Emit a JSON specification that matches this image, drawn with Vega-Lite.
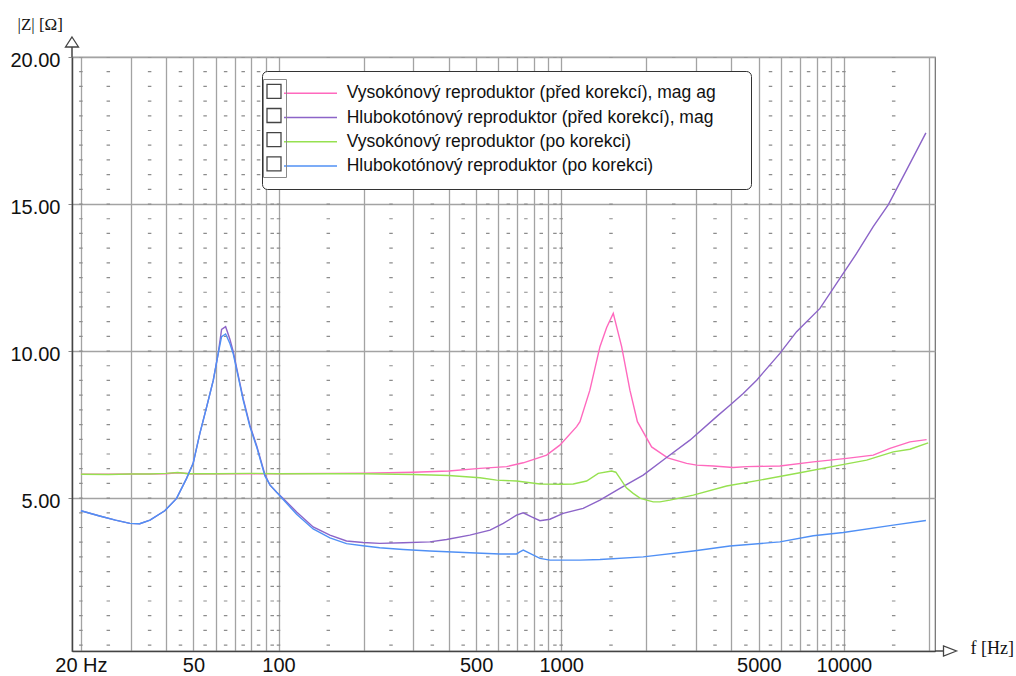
{
  "$schema": "https://vega.github.io/schema/vega-lite/v6.json",
  "width": 863,
  "height": 594,
  "autosize": {"type": "none"},
  "padding": {"left": 72, "top": 57, "right": 81, "bottom": 25},
  "background": "white",
  "config": {
    "font": "Liberation Sans",
    "view": {"stroke": "#6e6e6e", "strokeWidth": 1.2}
  },
  "datasets": {
    "curves": [
      {"s": "Vysokónový reproduktor (před korekcí), mag ag", "f": 20, "z": 5.81},
      {"s": "Vysokónový reproduktor (před korekcí), mag ag", "f": 25, "z": 5.81},
      {"s": "Vysokónový reproduktor (před korekcí), mag ag", "f": 30, "z": 5.82},
      {"s": "Vysokónový reproduktor (před korekcí), mag ag", "f": 35, "z": 5.82},
      {"s": "Vysokónový reproduktor (před korekcí), mag ag", "f": 40, "z": 5.83},
      {"s": "Vysokónový reproduktor (před korekcí), mag ag", "f": 44, "z": 5.86},
      {"s": "Vysokónový reproduktor (před korekcí), mag ag", "f": 50, "z": 5.82},
      {"s": "Vysokónový reproduktor (před korekcí), mag ag", "f": 70, "z": 5.83},
      {"s": "Vysokónový reproduktor (před korekcí), mag ag", "f": 100, "z": 5.83},
      {"s": "Vysokónový reproduktor (před korekcí), mag ag", "f": 150, "z": 5.84},
      {"s": "Vysokónový reproduktor (před korekcí), mag ag", "f": 200, "z": 5.85},
      {"s": "Vysokónový reproduktor (před korekcí), mag ag", "f": 300, "z": 5.88},
      {"s": "Vysokónový reproduktor (před korekcí), mag ag", "f": 400, "z": 5.92},
      {"s": "Vysokónový reproduktor (před korekcí), mag ag", "f": 516, "z": 6.01},
      {"s": "Vysokónový reproduktor (před korekcí), mag ag", "f": 641, "z": 6.07},
      {"s": "Vysokónový reproduktor (před korekcí), mag ag", "f": 734, "z": 6.2},
      {"s": "Vysokónový reproduktor (před korekcí), mag ag", "f": 888, "z": 6.46},
      {"s": "Vysokónový reproduktor (před korekcí), mag ag", "f": 989, "z": 6.8},
      {"s": "Vysokónový reproduktor (před korekcí), mag ag", "f": 1134, "z": 7.43},
      {"s": "Vysokónový reproduktor (před korekcí), mag ag", "f": 1165, "z": 7.6},
      {"s": "Vysokónový reproduktor (před korekcí), mag ag", "f": 1263, "z": 8.67},
      {"s": "Vysokónový reproduktor (před korekcí), mag ag", "f": 1371, "z": 10.15},
      {"s": "Vysokónový reproduktor (před korekcí), mag ag", "f": 1448, "z": 10.8},
      {"s": "Vysokónový reproduktor (před korekcí), mag ag", "f": 1528, "z": 11.28},
      {"s": "Vysokónový reproduktor (před korekcí), mag ag", "f": 1636, "z": 10.15},
      {"s": "Vysokónový reproduktor (před korekcí), mag ag", "f": 1750, "z": 8.67},
      {"s": "Vysokónový reproduktor (před korekcí), mag ag", "f": 1860, "z": 7.6},
      {"s": "Vysokónový reproduktor (před korekcí), mag ag", "f": 2088, "z": 6.74},
      {"s": "Vysokónový reproduktor (před korekcí), mag ag", "f": 2380, "z": 6.37},
      {"s": "Vysokónový reproduktor (před korekcí), mag ag", "f": 2777, "z": 6.18},
      {"s": "Vysokónový reproduktor (před korekcí), mag ag", "f": 3014, "z": 6.12},
      {"s": "Vysokónový reproduktor (před korekcí), mag ag", "f": 3450, "z": 6.09},
      {"s": "Vysokónový reproduktor (před korekcí), mag ag", "f": 4059, "z": 6.04},
      {"s": "Vysokónový reproduktor (před korekcí), mag ag", "f": 4527, "z": 6.07},
      {"s": "Vysokónový reproduktor (před korekcí), mag ag", "f": 5937, "z": 6.09},
      {"s": "Vysokónový reproduktor (před korekcí), mag ag", "f": 7790, "z": 6.23},
      {"s": "Vysokónový reproduktor (před korekcí), mag ag", "f": 10222, "z": 6.35},
      {"s": "Vysokónový reproduktor (před korekcí), mag ag", "f": 12696, "z": 6.46},
      {"s": "Vysokónový reproduktor (před korekcí), mag ag", "f": 14547, "z": 6.69},
      {"s": "Vysokónový reproduktor (před korekcí), mag ag", "f": 17124, "z": 6.91},
      {"s": "Vysokónový reproduktor (před korekcí), mag ag", "f": 19613, "z": 6.99},

      {"s": "Hlubokotónový reproduktor (před korekcí), mag", "f": 20, "z": 4.57},
      {"s": "Hlubokotónový reproduktor (před korekcí), mag", "f": 23.3, "z": 4.39},
      {"s": "Hlubokotónový reproduktor (před korekcí), mag", "f": 26.5, "z": 4.25},
      {"s": "Hlubokotónový reproduktor (před korekcí), mag", "f": 29.8, "z": 4.14},
      {"s": "Hlubokotónový reproduktor (před korekcí), mag", "f": 32.3, "z": 4.13},
      {"s": "Hlubokotónový reproduktor (před korekcí), mag", "f": 35.1, "z": 4.25},
      {"s": "Hlubokotónový reproduktor (před korekcí), mag", "f": 39.6, "z": 4.57},
      {"s": "Hlubokotónový reproduktor (před korekcí), mag", "f": 43.6, "z": 4.99},
      {"s": "Hlubokotónový reproduktor (před korekcí), mag", "f": 47.3, "z": 5.67},
      {"s": "Hlubokotónový reproduktor (před korekcí), mag", "f": 49.9, "z": 6.18},
      {"s": "Hlubokotónový reproduktor (před korekcí), mag", "f": 52.7, "z": 7.2},
      {"s": "Hlubokotónový reproduktor (před korekcí), mag", "f": 55.7, "z": 8.1},
      {"s": "Hlubokotónový reproduktor (před korekcí), mag", "f": 58.8, "z": 9.01},
      {"s": "Hlubokotónový reproduktor (před korekcí), mag", "f": 61.2, "z": 9.92},
      {"s": "Hlubokotónový reproduktor (před korekcí), mag", "f": 62.9, "z": 10.74},
      {"s": "Hlubokotónový reproduktor (před korekcí), mag", "f": 65, "z": 10.83},
      {"s": "Hlubokotónový reproduktor (před korekcí), mag", "f": 67.3, "z": 10.4},
      {"s": "Hlubokotónový reproduktor (před korekcí), mag", "f": 69.1, "z": 10.0},
      {"s": "Hlubokotónový reproduktor (před korekcí), mag", "f": 72, "z": 9.18},
      {"s": "Hlubokotónový reproduktor (před korekcí), mag", "f": 75, "z": 8.38},
      {"s": "Hlubokotónový reproduktor (před korekcí), mag", "f": 79.2, "z": 7.48},
      {"s": "Hlubokotónový reproduktor (před korekcí), mag", "f": 83.7, "z": 6.78},
      {"s": "Hlubokotónový reproduktor (před korekcí), mag", "f": 89.5, "z": 5.8},
      {"s": "Hlubokotónový reproduktor (před korekcí), mag", "f": 93.3, "z": 5.44},
      {"s": "Hlubokotónový reproduktor (před korekcí), mag", "f": 98.5, "z": 5.2},
      {"s": "Hlubokotónový reproduktor (před korekcí), mag", "f": 103.9, "z": 4.99},
      {"s": "Hlubokotónový reproduktor (před korekcí), mag", "f": 115.9, "z": 4.53},
      {"s": "Hlubokotónový reproduktor (před korekcí), mag", "f": 132.6, "z": 4.02},
      {"s": "Hlubokotónový reproduktor (před korekcí), mag", "f": 152, "z": 3.74},
      {"s": "Hlubokotónový reproduktor (před korekcí), mag", "f": 174, "z": 3.54},
      {"s": "Hlubokotónový reproduktor (před korekcí), mag", "f": 199, "z": 3.49},
      {"s": "Hlubokotónový reproduktor (před korekcí), mag", "f": 228, "z": 3.46},
      {"s": "Hlubokotónový reproduktor (před korekcí), mag", "f": 276, "z": 3.48},
      {"s": "Hlubokotónový reproduktor (před korekcí), mag", "f": 343, "z": 3.51},
      {"s": "Hlubokotónový reproduktor (před korekcí), mag", "f": 393, "z": 3.59},
      {"s": "Hlubokotónový reproduktor (před korekcí), mag", "f": 475, "z": 3.74},
      {"s": "Hlubokotónový reproduktor (před korekcí), mag", "f": 560, "z": 3.91},
      {"s": "Hlubokotónový reproduktor (před korekcí), mag", "f": 624, "z": 4.14},
      {"s": "Hlubokotónový reproduktor (před korekcí), mag", "f": 695, "z": 4.42},
      {"s": "Hlubokotónový reproduktor (před korekcí), mag", "f": 734, "z": 4.5},
      {"s": "Hlubokotónový reproduktor (před korekcí), mag", "f": 786, "z": 4.36},
      {"s": "Hlubokotónový reproduktor (před korekcí), mag", "f": 841, "z": 4.23},
      {"s": "Hlubokotónový reproduktor (před korekcí), mag", "f": 912, "z": 4.28},
      {"s": "Hlubokotónový reproduktor (před korekcí), mag", "f": 1016, "z": 4.48},
      {"s": "Hlubokotónový reproduktor (před korekcí), mag", "f": 1196, "z": 4.65},
      {"s": "Hlubokotónový reproduktor (před korekcí), mag", "f": 1371, "z": 4.93},
      {"s": "Hlubokotónový reproduktor (před korekcí), mag", "f": 1613, "z": 5.33},
      {"s": "Hlubokotónový reproduktor (před korekcí), mag", "f": 1950, "z": 5.78},
      {"s": "Hlubokotónový reproduktor (před korekcí), mag", "f": 2359, "z": 6.38},
      {"s": "Hlubokotónový reproduktor (před korekcí), mag", "f": 2853, "z": 6.97},
      {"s": "Hlubokotónový reproduktor (před korekcí), mag", "f": 3546, "z": 7.77},
      {"s": "Hlubokotónový reproduktor (před korekcí), mag", "f": 3951, "z": 8.16},
      {"s": "Hlubokotónový reproduktor (před korekcí), mag", "f": 4404, "z": 8.56},
      {"s": "Hlubokotónový reproduktor (před korekcí), mag", "f": 4913, "z": 9.01},
      {"s": "Hlubokotónový reproduktor (před korekcí), mag", "f": 5937, "z": 9.92},
      {"s": "Hlubokotónový reproduktor (před korekcí), mag", "f": 6802, "z": 10.66},
      {"s": "Hlubokotónový reproduktor (před korekcí), mag", "f": 8228, "z": 11.45},
      {"s": "Hlubokotónový reproduktor (před korekcí), mag", "f": 9680, "z": 12.47},
      {"s": "Hlubokotónový reproduktor (před korekcí), mag", "f": 11088, "z": 13.32},
      {"s": "Hlubokotónový reproduktor (před korekcí), mag", "f": 12696, "z": 14.23},
      {"s": "Hlubokotónový reproduktor (před korekcí), mag", "f": 14348, "z": 14.97},
      {"s": "Hlubokotónový reproduktor (před korekcí), mag", "f": 16668, "z": 16.16},
      {"s": "Hlubokotónový reproduktor (před korekcí), mag", "f": 19500, "z": 17.42},

      {"s": "Vysokónový reproduktor (po korekci)", "f": 20, "z": 5.81},
      {"s": "Vysokónový reproduktor (po korekci)", "f": 25, "z": 5.8},
      {"s": "Vysokónový reproduktor (po korekci)", "f": 30, "z": 5.82},
      {"s": "Vysokónový reproduktor (po korekci)", "f": 35, "z": 5.82},
      {"s": "Vysokónový reproduktor (po korekci)", "f": 40, "z": 5.84},
      {"s": "Vysokónový reproduktor (po korekci)", "f": 44, "z": 5.87},
      {"s": "Vysokónový reproduktor (po korekci)", "f": 48, "z": 5.83},
      {"s": "Vysokónový reproduktor (po korekci)", "f": 60, "z": 5.83},
      {"s": "Vysokónový reproduktor (po korekci)", "f": 80, "z": 5.84},
      {"s": "Vysokónový reproduktor (po korekci)", "f": 100, "z": 5.83},
      {"s": "Vysokónový reproduktor (po korekci)", "f": 150, "z": 5.83},
      {"s": "Vysokónový reproduktor (po korekci)", "f": 200, "z": 5.83},
      {"s": "Vysokónový reproduktor (po korekci)", "f": 300, "z": 5.8},
      {"s": "Vysokónový reproduktor (po korekci)", "f": 400, "z": 5.77},
      {"s": "Vysokónový reproduktor (po korekci)", "f": 516, "z": 5.69},
      {"s": "Vysokónový reproduktor (po korekci)", "f": 591, "z": 5.61},
      {"s": "Vysokónový reproduktor (po korekci)", "f": 695, "z": 5.58},
      {"s": "Vysokónový reproduktor (po korekci)", "f": 841, "z": 5.48},
      {"s": "Vysokónový reproduktor (po korekci)", "f": 1000, "z": 5.47},
      {"s": "Vysokónový reproduktor (po korekci)", "f": 1103, "z": 5.48},
      {"s": "Vysokónový reproduktor (po korekci)", "f": 1230, "z": 5.58},
      {"s": "Vysokónový reproduktor (po korekci)", "f": 1352, "z": 5.84},
      {"s": "Vysokónový reproduktor (po korekci)", "f": 1508, "z": 5.92},
      {"s": "Vysokónový reproduktor (po korekci)", "f": 1560, "z": 5.88},
      {"s": "Vysokónový reproduktor (po korekci)", "f": 1613, "z": 5.68},
      {"s": "Vysokónový reproduktor (po korekci)", "f": 1700, "z": 5.35},
      {"s": "Vysokónový reproduktor (po korekci)", "f": 1797, "z": 5.16},
      {"s": "Vysokónový reproduktor (po korekci)", "f": 1900, "z": 5.0},
      {"s": "Vysokónový reproduktor (po korekci)", "f": 2005, "z": 4.93},
      {"s": "Vysokónový reproduktor (po korekci)", "f": 2116, "z": 4.87},
      {"s": "Vysokónový reproduktor (po korekci)", "f": 2234, "z": 4.87},
      {"s": "Vysokónový reproduktor (po korekci)", "f": 2424, "z": 4.93},
      {"s": "Vysokónový reproduktor (po korekci)", "f": 2932, "z": 5.1},
      {"s": "Vysokónový reproduktor (po korekci)", "f": 3846, "z": 5.41},
      {"s": "Vysokónový reproduktor (po korekci)", "f": 5046, "z": 5.61},
      {"s": "Vysokónový reproduktor (po korekci)", "f": 6988, "z": 5.86},
      {"s": "Vysokónový reproduktor (po korekci)", "f": 9680, "z": 6.12},
      {"s": "Vysokónový reproduktor (po korekci)", "f": 12031, "z": 6.29},
      {"s": "Vysokónový reproduktor (po korekci)", "f": 14944, "z": 6.57},
      {"s": "Vysokónový reproduktor (po korekci)", "f": 17124, "z": 6.66},
      {"s": "Vysokónový reproduktor (po korekci)", "f": 19871, "z": 6.88},

      {"s": "Hlubokotónový reproduktor (po korekci)", "f": 20, "z": 4.57},
      {"s": "Hlubokotónový reproduktor (po korekci)", "f": 23.3, "z": 4.39},
      {"s": "Hlubokotónový reproduktor (po korekci)", "f": 26.5, "z": 4.25},
      {"s": "Hlubokotónový reproduktor (po korekci)", "f": 29.8, "z": 4.14},
      {"s": "Hlubokotónový reproduktor (po korekci)", "f": 32.3, "z": 4.13},
      {"s": "Hlubokotónový reproduktor (po korekci)", "f": 35.1, "z": 4.25},
      {"s": "Hlubokotónový reproduktor (po korekci)", "f": 39.6, "z": 4.57},
      {"s": "Hlubokotónový reproduktor (po korekci)", "f": 43.6, "z": 4.99},
      {"s": "Hlubokotónový reproduktor (po korekci)", "f": 47.3, "z": 5.67},
      {"s": "Hlubokotónový reproduktor (po korekci)", "f": 49.9, "z": 6.18},
      {"s": "Hlubokotónový reproduktor (po korekci)", "f": 52.7, "z": 7.2},
      {"s": "Hlubokotónový reproduktor (po korekci)", "f": 55.7, "z": 8.1},
      {"s": "Hlubokotónový reproduktor (po korekci)", "f": 58.8, "z": 9.01},
      {"s": "Hlubokotónový reproduktor (po korekci)", "f": 61.2, "z": 9.92},
      {"s": "Hlubokotónový reproduktor (po korekci)", "f": 62.9, "z": 10.49},
      {"s": "Hlubokotónový reproduktor (po korekci)", "f": 65, "z": 10.58},
      {"s": "Hlubokotónový reproduktor (po korekci)", "f": 67.3, "z": 10.26},
      {"s": "Hlubokotónový reproduktor (po korekci)", "f": 69.1, "z": 9.92},
      {"s": "Hlubokotónový reproduktor (po korekci)", "f": 72, "z": 9.13},
      {"s": "Hlubokotónový reproduktor (po korekci)", "f": 75, "z": 8.33},
      {"s": "Hlubokotónový reproduktor (po korekci)", "f": 79.2, "z": 7.43},
      {"s": "Hlubokotónový reproduktor (po korekci)", "f": 83.7, "z": 6.74},
      {"s": "Hlubokotónový reproduktor (po korekci)", "f": 89.5, "z": 5.75},
      {"s": "Hlubokotónový reproduktor (po korekci)", "f": 93.3, "z": 5.45},
      {"s": "Hlubokotónový reproduktor (po korekci)", "f": 98.5, "z": 5.2},
      {"s": "Hlubokotónový reproduktor (po korekci)", "f": 103.9, "z": 4.95},
      {"s": "Hlubokotónový reproduktor (po korekci)", "f": 115.9, "z": 4.45},
      {"s": "Hlubokotónový reproduktor (po korekci)", "f": 132.6, "z": 3.95},
      {"s": "Hlubokotónový reproduktor (po korekci)", "f": 152, "z": 3.65},
      {"s": "Hlubokotónový reproduktor (po korekci)", "f": 174, "z": 3.45},
      {"s": "Hlubokotónový reproduktor (po korekci)", "f": 199, "z": 3.38},
      {"s": "Hlubokotónový reproduktor (po korekci)", "f": 228, "z": 3.31},
      {"s": "Hlubokotónový reproduktor (po korekci)", "f": 276, "z": 3.25},
      {"s": "Hlubokotónový reproduktor (po korekci)", "f": 343, "z": 3.2},
      {"s": "Hlubokotónový reproduktor (po korekci)", "f": 475, "z": 3.14},
      {"s": "Hlubokotónový reproduktor (po korekci)", "f": 607, "z": 3.1},
      {"s": "Hlubokotónový reproduktor (po korekci)", "f": 695, "z": 3.1},
      {"s": "Hlubokotónový reproduktor (po korekci)", "f": 714, "z": 3.17},
      {"s": "Hlubokotónový reproduktor (po korekci)", "f": 734, "z": 3.23},
      {"s": "Hlubokotónový reproduktor (po korekci)", "f": 775, "z": 3.12},
      {"s": "Hlubokotónový reproduktor (po korekci)", "f": 841, "z": 2.95},
      {"s": "Hlubokotónový reproduktor (po korekci)", "f": 912, "z": 2.89},
      {"s": "Hlubokotónový reproduktor (po korekci)", "f": 1073, "z": 2.89},
      {"s": "Hlubokotónový reproduktor (po korekci)", "f": 1165, "z": 2.89},
      {"s": "Hlubokotónový reproduktor (po korekci)", "f": 1371, "z": 2.91},
      {"s": "Hlubokotónový reproduktor (po korekci)", "f": 1950, "z": 3.0},
      {"s": "Hlubokotónový reproduktor (po korekci)", "f": 2932, "z": 3.2},
      {"s": "Hlubokotónový reproduktor (po korekci)", "f": 3951, "z": 3.37},
      {"s": "Hlubokotónový reproduktor (po korekci)", "f": 5937, "z": 3.51},
      {"s": "Hlubokotónový reproduktor (po korekci)", "f": 7790, "z": 3.72},
      {"s": "Hlubokotónový reproduktor (po korekci)", "f": 9944, "z": 3.83},
      {"s": "Hlubokotónový reproduktor (po korekci)", "f": 14944, "z": 4.08},
      {"s": "Hlubokotónový reproduktor (po korekci)", "f": 19500, "z": 4.24}
    ],
    "minor": [
      {"f": 20}, {"f": 25}, {"f": 35}, {"f": 45}, {"f": 55}, {"f": 65}, {"f": 75}, {"f": 85}, {"f": 95},
      {"f": 100}, {"f": 150}, {"f": 250}, {"f": 350}, {"f": 450}, {"f": 550}, {"f": 650}, {"f": 750}, {"f": 850}, {"f": 950},
      {"f": 1000}, {"f": 1500}, {"f": 2500}, {"f": 3500}, {"f": 4500}, {"f": 5500}, {"f": 6500}, {"f": 7500}, {"f": 8500}, {"f": 9500},
      {"f": 10000}, {"f": 15000}
    ],
    "boxes": [{"cb": "1"}, {"cb": "2"}, {"cb": "3"}, {"cb": "4"}],
    "one": [{"k": 1}]
  },
  "layer": [
    {
      "data": {"name": "minor"},
      "mark": {"type": "rule", "color": "#8c8c8c", "strokeWidth": 3.5, "strokeDash": [1.2, 13.503], "strokeDashOffset": 0.6},
      "encoding": {
        "x": {"field": "f", "type": "quantitative", "scale": {"type": "log", "domain": [18.6, 21000], "nice": false}}
      }
    },
    {
      "data": {"name": "curves"},
      "mark": {"type": "line", "strokeWidth": 1.4},
      "encoding": {
        "x": {
          "field": "f", "type": "quantitative",
          "scale": {"type": "log", "domain": [18.6, 21000], "nice": false},
          "axis": {
            "values": [20, 30, 40, 50, 60, 70, 80, 90, 100, 200, 300, 400, 500, 600, 700, 800, 900, 1000, 2000, 3000, 4000, 5000, 6000, 7000, 8000, 9000, 10000, 20000],
            "labelExpr": "datum.value == 20 ? '20 Hz' : (indexof([50, 100, 500, 1000, 5000, 10000], datum.value) >= 0 ? format(datum.value, 'd') : '')",
            "grid": true, "gridColor": "#a3a3a3", "gridWidth": 1.3,
            "ticks": false,
            "domainColor": "#444", "domainWidth": 1.5,
            "labelFontSize": 20, "labelColor": "#111", "labelPadding": 4,
            "labelOverlap": false, "labelFlush": false,
            "title": "f [Hz]", "titleFont": "Liberation Serif", "titleFontSize": 18, "titleFontWeight": "normal",
            "titleColor": "#111", "titleAngle": 0, "titleAlign": "left", "titleBaseline": "middle",
            "titleX": 898, "titleY": -3
          }
        },
        "y": {
          "field": "z", "type": "quantitative",
          "scale": {"domain": [-0.2, 20], "nice": false, "zero": false},
          "axis": {
            "values": [5, 10, 15, 20], "format": ".2f",
            "grid": true, "gridColor": "#a3a3a3", "gridWidth": 1.3,
            "tickSize": 4, "tickColor": "#888",
            "domainColor": "#444", "domainWidth": 1.5,
            "labelFontSize": 20, "labelColor": "#111", "labelPadding": 8, "labelOffset": 3,
            "title": "|Z| [Ω]", "titleFont": "Liberation Serif", "titleFontSize": 17, "titleFontWeight": "normal",
            "titleColor": "#111", "titleAngle": 0, "titleAlign": "left", "titleBaseline": "alphabetic",
            "titleX": -55, "titleY": -28
          }
        },
        "color": {
          "field": "s", "type": "nominal",
          "scale": {
            "domain": ["Vysokónový reproduktor (před korekcí), mag ag", "Hlubokotónový reproduktor (před korekcí), mag", "Vysokónový reproduktor (po korekci)", "Hlubokotónový reproduktor (po korekci)"],
            "range": ["#ff69be", "#8c64c8", "#96e150", "#5090f5"]
          },
          "legend": {
            "orient": "none", "legendX": 190, "legendY": 14,
            "title": " ", "titleOrient": "right", "titlePadding": 22, "titleFontSize": 2,
            "padding": 13,
            "symbolType": "stroke", "symbolSize": 2809, "symbolStrokeWidth": 1.5, "symbolOffset": 8,
            "labelOffset": 8.7, "labelFontSize": 17.5, "labelFont": "Liberation Sans", "labelColor": "#111", "labelLimit": 700,
            "clipHeight": 18.6, "rowPadding": 5.2,
            "fillColor": "white", "strokeColor": "#333", "cornerRadius": 5
          }
        }
      }
    },
    {
      "data": {"name": "one"},
      "mark": {"type": "rule", "color": "#444", "strokeWidth": 1.5},
      "encoding": {
        "x": {"datum": 18.6, "type": "quantitative", "scale": {"type": "log", "domain": [18.6, 21000], "nice": false}},
        "y": {"datum": 20, "type": "quantitative", "scale": {"domain": [-0.2, 20], "nice": false, "zero": false}},
        "y2": {"datum": 20.34}
      }
    },
    {
      "data": {"name": "one"},
      "mark": {"type": "point", "shape": "M0,-0.77L1,0.77L-1,0.77Z", "size": 169, "filled": true, "fill": "white", "stroke": "#444", "strokeWidth": 1.3, "opacity": 1},
      "encoding": {
        "x": {"datum": 18.6, "type": "quantitative", "scale": {"type": "log", "domain": [18.6, 21000], "nice": false}},
        "y": {"datum": 20.51, "type": "quantitative", "scale": {"domain": [-0.2, 20], "nice": false, "zero": false}}
      }
    },
    {
      "data": {"name": "one"},
      "mark": {"type": "rule", "color": "#444", "strokeWidth": 1.5},
      "encoding": {
        "x": {"datum": 21000, "type": "quantitative", "scale": {"type": "log", "domain": [18.6, 21000], "nice": false}},
        "x2": {"datum": 22500},
        "y": {"datum": -0.2, "type": "quantitative", "scale": {"domain": [-0.2, 20], "nice": false, "zero": false}}
      }
    },
    {
      "data": {"name": "one"},
      "mark": {"type": "point", "shape": "M1,0L-1,0.77L-1,-0.77Z", "size": 169, "filled": true, "fill": "white", "stroke": "#444", "strokeWidth": 1.3, "opacity": 1},
      "encoding": {
        "x": {"datum": 23730, "type": "quantitative", "scale": {"type": "log", "domain": [18.6, 21000], "nice": false}},
        "y": {"datum": -0.2, "type": "quantitative", "scale": {"domain": [-0.2, 20], "nice": false, "zero": false}}
      }
    },
    {
      "data": {"name": "boxes"},
      "mark": {"type": "point", "opacity": 0, "color": "#444", "filled": false},
      "encoding": {
        "shape": {
          "field": "cb", "type": "nominal",
          "scale": {"range": ["square"]},
          "legend": {
            "orient": "none", "legendX": 191, "legendY": 22,
            "title": null, "padding": 3,
            "symbolSize": 196, "symbolStrokeWidth": 1.3, "symbolStrokeColor": "#444",
            "clipHeight": 18.6, "rowPadding": 5.2,
            "labelExpr": "''", "labelOffset": 1,
            "strokeColor": "#8a8a8a",
            "encode": {
              "symbols": {"update": {"opacity": {"value": 1}, "stroke": {"value": "#444"}, "fill": {"value": "white"}, "fillOpacity": {"value": 1}}},
              "legend": {"enter": {"strokeDash": {"value": [1.5, 1.5]}}, "update": {"strokeDash": {"value": [1.5, 1.5]}, "stroke": {"value": "#444"}}}
            }
          }
        }
      }
    }
  ]
}
